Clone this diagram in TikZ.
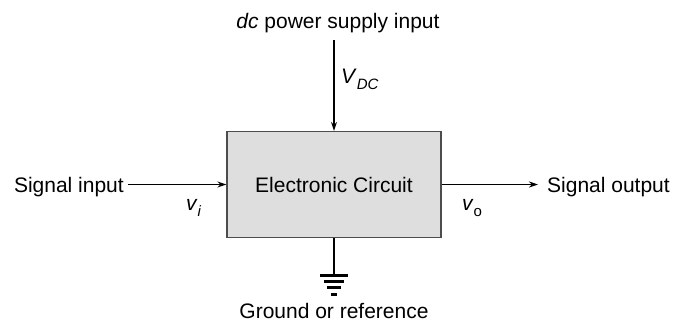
\documentclass[tikz,border=0pt]{standalone}
\usepackage{fontspec}
\setmainfont{Liberation Sans}
\usetikzlibrary{arrows.meta}
\newcommand{\subtxt}[1]{\raisebox{-0.3em}{\fontsize{15}{17}\selectfont #1}}
\begin{document}
\begin{tikzpicture}[x=1pt,y=-1pt,
  lbl/.style={inner sep=0pt,font=\fontsize{21}{25}\selectfont},
  conn/.style={line width=1.4pt,-{Stealth[length=9pt,width=6pt]}},
  gbar/.style={line width=3pt}]
\useasboundingbox (0,0) rectangle (673,322);
\node[draw=black!70,line width=1.3pt,fill=black!13,minimum width=214pt,minimum height=106pt,inner sep=0pt,font=\fontsize{21}{25}\selectfont] (box) at (334,184.5) {Electronic Circuit};
\node[lbl,anchor=base] (dc) at (338,28) {\textit{dc} power supply input};
\coordinate (vtop) at (334,40);
\draw[conn] (vtop) -- (box.north);
\node[lbl,anchor=base west] (vdc) at (341,83) {\textit{V}\subtxt{\textit{DC}}};
\node[lbl,anchor=base east] (sigin) at (124,192) {Signal input};
\draw[conn] ([xshift=4pt]sigin.east |- box.west) -- (box.west);
\node[lbl,anchor=base west] (vi) at (186,210) {\textit{v}\subtxt{\textit{i}}};
\node[lbl,anchor=base west] (sigout) at (547,192) {Signal output};
\draw[conn] (box.east) -- ([xshift=-9pt]sigout.west |- box.east);
\node[lbl,anchor=base west] (vo) at (462,210) {\textit{v}\subtxt{o}};
\coordinate (gnd) at (334,275);
\draw[line width=1.2pt] (box.south) -- (gnd);
\draw[gbar] (320,275.5) -- (348,275.5);
\draw[gbar] (324,281.5) -- (344,281.5);
\draw[gbar] (327,287.5) -- (341,287.5);
\draw[gbar] (331,294) -- (337,294);
\node[lbl,anchor=base] (ground) at (334,318) {Ground or reference};
\end{tikzpicture}
\end{document}
